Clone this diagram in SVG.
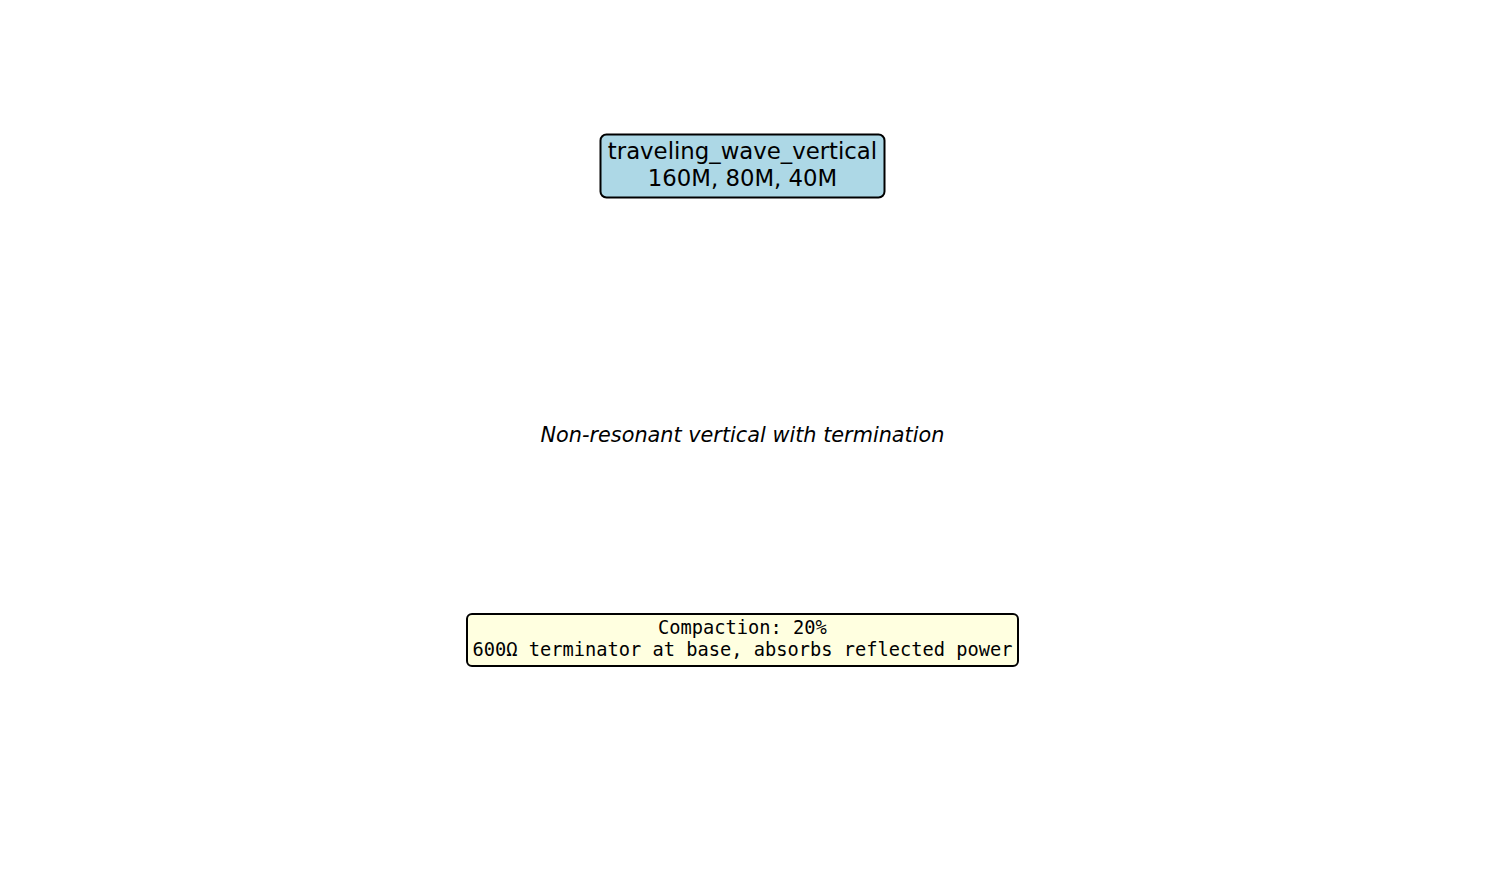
<svg xmlns="http://www.w3.org/2000/svg" width="1485" height="885" viewBox="0 0 1485 885">
<style>
.box{stroke:#000;stroke-width:2}
.sans{font-family:"DejaVu Sans","Liberation Sans",sans-serif;fill:#000}
.mono{font-family:"DejaVu Sans Mono","Liberation Mono",monospace;fill:#000}
</style>
<rect width="1485" height="885" fill="#fff"/>
<g id="connectors"></g>
<g id="node-title">
<rect class="box" x="600.5" y="134.5" width="284" height="63" rx="6" fill="#ADD8E6"/>
<text class="sans" font-size="22.8" text-anchor="middle" x="742.5" y="159">traveling_wave_vertical</text>
<text class="sans" font-size="22.8" text-anchor="middle" x="742.5" y="186">160M, 80M, 40M</text>
</g>
<g id="node-desc">
<text class="sans" font-size="20.8" font-style="italic" text-anchor="middle" x="742.5" y="442">Non-resonant vertical with termination</text>
</g>
<g id="node-note">
<rect class="box" x="467" y="614" width="551" height="52" rx="5" fill="#FFFFE0"/>
<text class="mono" font-size="18.7" text-anchor="middle" x="742.5" y="634">Compaction: 20%</text>
<text class="mono" font-size="18.7" text-anchor="middle" x="742.5" y="656">600Ω terminator at base, absorbs reflected power</text>
</g>
</svg>
